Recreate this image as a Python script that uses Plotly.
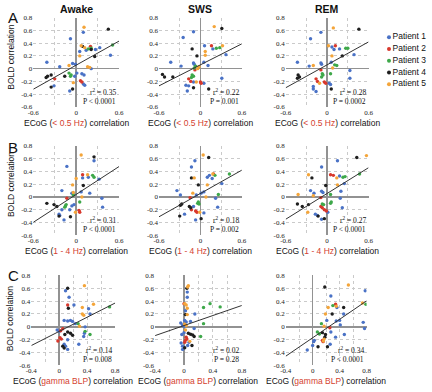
import plotly.graph_objects as go

W, H = 432, 392

patients = ["Patient 1", "Patient 2", "Patient 3", "Patient 4", "Patient 5"]
colors = ["#4a72c6", "#d8382c", "#3ea84a", "#1e1e1e", "#f4a53a"]

states = ["Awake", "SWS", "REM"]
bands = ["&lt; 0.5 Hz", "1 - 4 Hz", "gamma BLP"]
row_letters = ["A", "B", "C"]

# axis ticks (labelled) per row; minor grid step per row
xticks_ab = [-0.6, 0, 0.6]
xticklabels_ab = ["-0.6", "0", "0.6"]
xgrid_step_ab = 0.3
xticks_c = [-0.4, 0, 0.4, 0.8]
xticklabels_c = ["-0.4", "0", "0.4", "0.8"]
xgrid_step_c = 0.2
yticks = [-0.6, -0.4, -0.2, 0, 0.2, 0.4, 0.6, 0.8]
yticklabels = ["-0.6", "-0.4", "-0.2", "0", "0.2", "0.4", "0.6", "0.8"]

# ---------------- Row A: ECoG (< 0.5 Hz) ----------------
A_awake_x = [
    [0.10, -0.08, 0.33, 0.48, 0.27, 0.14, 0.05, -0.41, -0.05, -0.01, -0.23, 0.21, 0.01, 0.08, 0.11, -0.02, -0.31, 0.10, 0.12, -0.09],
    [0.20, -0.30, 0.06, 0.08],
    [0.21, 0.17, 0.51, -0.10, -0.07, -0.08],
    [0.45, 0.09, 0.21, 0.26, -0.35, -0.40, -0.42, -0.16, -0.35, -0.05],
    [0.11, 0.07, 0.12, 0.05, -0.10, 0.16, 0.19, -0.04],
]
A_awake_y = [
    [0.57, 0.47, 0.33, 0.21, 0.30, 0.29, 0.27, 0.10, 0.08, 0.07, 0.03, 0.00, -0.07, -0.08, -0.10, -0.12, -0.27, -0.24, -0.26, -0.35],
    [0.35, -0.16, -0.19, -0.21],
    [0.32, 0.31, 0.37, -0.07, -0.10, -0.12],
    [0.62, 0.35, 0.30, 0.19, -0.10, -0.12, -0.14, -0.12, -0.29, -0.32],
    [0.65, 0.36, 0.33, 0.20, 0.05, 0.03, 0.02, -0.22],
]
A_sws_x = [
    [-0.10, -0.25, 0.06, 0.18, 0.37, -0.43, -0.10, -0.09, 0.05, -0.28, 0.11, 0.31, -0.21, -0.10, -0.19, 0.05, -0.17],
    [0.16, -0.08, -0.17, -0.14, 0.00, 0.01],
    [0.23, 0.28, -0.07, -0.09, -0.12, -0.10, -0.13],
    [0.31, -0.12, -0.05, -0.55, -0.52, -0.40, -0.10, 0.12],
    [0.20, 0.32, 0.07, 0.07, -0.02, -0.04, -0.06],
]
A_sws_y = [
    [0.58, 0.49, 0.36, 0.31, 0.22, 0.10, 0.09, 0.07, 0.10, 0.04, 0.05, -0.15, -0.26, -0.21, -0.35, -0.23, -0.27],
    [0.36, -0.02, -0.16, -0.20, -0.21, -0.23],
    [0.32, 0.33, 0.04, 0.01, -0.10, -0.12, -0.14],
    [0.63, 0.31, 0.20, -0.09, -0.13, -0.13, -0.30, -0.32],
    [0.66, 0.36, 0.27, 0.21, 0.03, 0.00, -0.21],
]
A_rem_x = [
    [-0.09, -0.24, 0.07, 0.18, 0.10, 0.39, -0.43, -0.09, -0.08, -0.26, 0.06, 0.33, 0.03, 0.05, -0.20, -0.20, -0.16, 0.33],
    [0.12, -0.09, -0.16, -0.14, -0.04, -0.02],
    [0.27, 0.30, 0.11, 0.14, -0.07, -0.06, -0.08, 0.05],
    [0.46, 0.22, -0.42, -0.40, -0.43, 0.06],
    [0.09, 0.02, 0.07, -0.20, 0.08, -0.11],
]
A_rem_y = [
    [0.57, 0.47, 0.34, 0.31, 0.30, 0.22, 0.10, 0.09, 0.07, 0.04, 0.10, -0.03, -0.23, -0.25, -0.28, -0.32, -0.36, -0.15],
    [0.36, -0.02, -0.16, -0.20, -0.21, -0.23],
    [0.32, 0.32, 0.06, 0.05, -0.08, -0.10, -0.13, -0.08],
    [0.62, 0.20, -0.10, -0.13, -0.15, -0.32],
    [0.64, 0.36, 0.20, 0.05, 0.01, -0.23],
]

# ---------------- Row B: ECoG (1 - 4 Hz) ----------------
B_awake_x = [
    [0.25, -0.13, 0.09, 0.17, 0.32, -0.20, 0.07, -0.06, -0.04, 0.19, 0.36, -0.03, -0.06, 0.37, -0.20, -0.09, -0.24, -0.23, -0.17],
    [0.09, -0.13, 0.04, 0.05],
    [0.23, 0.25, -0.04, 0.05, -0.14, -0.15, -0.16],
    [0.25, 0.10, -0.41, -0.31, -0.27, -0.24, -0.08],
    [0.07, 0.16, 0.00, -0.05, -0.04, 0.08, -0.01],
]
B_awake_y = [
    [0.57, 0.48, 0.30, 0.31, 0.28, 0.10, 0.08, 0.06, 0.04, 0.06, -0.02, -0.12, -0.14, -0.16, -0.20, -0.20, -0.27, -0.29, -0.36],
    [0.35, -0.02, -0.21, -0.24],
    [0.34, 0.31, 0.03, -0.08, -0.12, -0.14, -0.16],
    [0.63, 0.18, -0.10, -0.12, -0.15, -0.30, -0.31],
    [0.66, 0.35, 0.29, 0.19, 0.07, 0.00, -0.24],
]
B_sws_x = [
    [-0.08, -0.13, 0.10, 0.13, 0.17, 0.31, -0.34, -0.29, 0.05, 0.01, -0.06, 0.22, -0.10, -0.23, 0.05, 0.25, -0.07],
    [0.19, -0.15, -0.13, -0.07, -0.05],
    [0.21, 0.42, 0.26, -0.03, -0.04, -0.02],
    [0.12, -0.13, -0.03, -0.27, -0.29, -0.16, -0.14, -0.30, 0.01],
    [0.04, -0.09, 0.18, 0.10, -0.11, 0.08, -0.01],
]
B_sws_y = [
    [0.57, 0.47, 0.31, 0.34, 0.29, 0.21, 0.10, 0.03, 0.08, 0.06, 0.03, -0.02, -0.15, -0.27, -0.25, -0.16, -0.36],
    [0.36, -0.01, -0.20, -0.22, -0.24],
    [0.34, 0.36, 0.04, -0.08, -0.10, -0.11],
    [0.62, 0.30, 0.19, -0.11, -0.13, -0.15, -0.17, -0.30, -0.34],
    [0.66, 0.30, 0.36, 0.19, 0.06, 0.00, -0.24],
]
B_rem_x = [
    [0.15, -0.08, 0.18, 0.25, -0.24, -0.19, -0.08, -0.06, 0.20, 0.19, 0.01, 0.22, -0.17, -0.14, -0.08],
    [0.05, 0.09, -0.09, -0.09, -0.07, -0.04, -0.01],
    [0.23, 0.26, 0.47, 0.05, 0.06, 0.05, -0.07, -0.05],
    [0.43, -0.22, -0.02, -0.43, -0.36, -0.27, -0.13, -0.04],
    [0.57, -0.27, 0.14, 0.15, -0.42, -0.20, -0.28],
]
B_rem_y = [
    [0.57, 0.47, 0.33, 0.21, 0.10, 0.06, 0.09, 0.07, 0.09, -0.02, -0.24, -0.17, -0.27, -0.29, -0.35],
    [0.35, 0.34, -0.01, -0.15, -0.17, -0.20, -0.22],
    [0.31, 0.32, 0.36, 0.04, -0.08, -0.10, -0.11, -0.12],
    [0.62, 0.30, 0.18, -0.11, -0.15, -0.12, -0.30, -0.34],
    [0.65, 0.35, 0.30, 0.19, 0.04, 0.02, -0.24],
]

# ---------------- Row C: ECoG (gamma BLP) ----------------
C_awake_x = [
    [0.09, 0.14, 0.21, 0.42, 0.44, 0.07, 0.12, 0.16, 0.19, 0.23, 0.37, 0.36, 0.35, 0.00, 0.12, 0.07, 0.09, 0.12, 0.28, -0.03],
    [0.12, 0.05, 0.02, 0.01, -0.02, 0.03],
    [0.72, 0.27, 0.37, 0.44],
    [0.12, 0.13, 0.12, 0.16, 0.19, 0.08, 0.05, 0.07],
    [0.36, 0.33, 0.49, 0.33, 0.35, 0.29],
]
C_awake_y = [
    [0.56, 0.46, 0.34, 0.28, 0.20, 0.10, 0.09, 0.10, 0.085, 0.05, 0.00, -0.10, -0.15, -0.07, -0.20, -0.27, -0.30, -0.35, -0.27, -0.05],
    [0.34, -0.03, -0.06, -0.17, -0.22, -0.19],
    [0.31, 0.05, -0.07, -0.12],
    [0.60, 0.29, -0.08, -0.10, -0.13, -0.12, -0.30, -0.33],
    [0.64, 0.30, 0.35, 0.20, 0.18, 0.01],
]
C_sws_x = [
    [0.045, 0.045, 0.02, 0.15, 0.01, 0.03, 0.09, -0.045, -0.02, 0.00, 0.14, 0.00, -0.03, -0.04, -0.02, 0.05, -0.02, 0.07],
    [0.00, 0.03, 0.04, 0.02, 0.01],
    [0.36, 0.50, 0.27, 0.27, 0.23],
    [0.04, 0.02, 0.06, 0.09, 0.12, 0.14, 0.01, 0.11],
    [0.06, 0.05, 0.01, 0.03, 0.045, 0.045, 0.01, 0.03, 0.02, 0.08],
]
C_sws_y = [
    [0.54, 0.46, 0.25, 0.20, 0.10, 0.075, 0.085, 0.06, 0.03, 0.01, -0.025, -0.09, -0.12, -0.25, -0.30, -0.29, -0.35, -0.24],
    [0.36, -0.16, -0.19, -0.21, -0.24],
    [0.36, 0.31, 0.30, 0.05, -0.15],
    [0.60, 0.19, -0.10, -0.115, -0.125, -0.15, -0.325, -0.29],
    [0.64, 0.62, 0.36, 0.34, 0.29, 0.19, 0.04, 0.02, -0.05, -0.225],
]
C_rem_x = [
    [0.78, 0.27, 0.36, 0.46, 0.21, 0.35, 0.40, 0.41, 0.75, 0.77, 0.27, 0.47, 0.025, 0.015, 0.00, 0.26, 0.34, -0.08],
    [0.34, 0.255, 0.145, 0.155],
    [0.30, 0.79, 0.13, 0.07, 0.10],
    [0.18, 0.46, 0.29, 0.145, 0.19, 0.18, 0.08, 0.22],
    [0.53, 0.35, 0.23, 0.74, 0.19, 0.17, 0.17, 0.16],
]
C_rem_y = [
    [0.56, 0.48, 0.30, 0.20, 0.10, 0.09, 0.10, 0.03, 0.07, -0.025, -0.08, -0.12, -0.21, -0.23, -0.29, -0.27, -0.16, -0.36],
    [0.35, -0.015, -0.21, -0.23],
    [0.33, 0.35, 0.05, -0.08, -0.11],
    [0.62, 0.30, 0.20, -0.09, -0.12, -0.16, -0.31, -0.31],
    [0.65, 0.32, 0.30, 0.37, 0.20, 0.01, -0.19, -0.22],
]

# regression lines (slope, intercept) per panel, row-major
fit_slope = [0.63, 0.55, 0.60, 0.73, 0.61, 0.675, 0.55, 0.39, 0.717]
fit_intercept = [0.055, 0.06, 0.06, 0.04, 0.055, 0.055, -0.07, 0.02, -0.17]

# statistics per panel, row-major
r2_values = ["0.35", "0.22", "0.28", "0.31", "0.18", "0.27", "0.14", "0.02", "0.34"]
p_values = ["P &lt; 0.0001", "P = 0.001", "P = 0.0002",
            "P &lt; 0.0001", "P = 0.002", "P &lt; 0.0001",
            "P = 0.008", "P = 0.28", "P &lt; 0.0001"]

panel_x = [A_awake_x, A_sws_x, A_rem_x, B_awake_x, B_sws_x, B_rem_x, C_awake_x, C_sws_x, C_rem_x]
panel_y = [A_awake_y, A_sws_y, A_rem_y, B_awake_y, B_sws_y, B_rem_y, C_awake_y, C_sws_y, C_rem_y]

# ---------------- layout geometry (pixels) ----------------
col_px = [
    [(28, 116), (157, 242), (287, 372)],
    [(28, 116), (157, 242), (287, 372)],
    [(26, 112), (153, 242), (287, 370)],
]
row_px = [(14, 105), (145, 236), (277, 369)]
xtitle_px = [121, 252, 385]
ylabel_center_px = [54, 184, 321]
letter_px = [14, 146, 277]

def px_x(p):
    return p / W

def px_y(p):
    return 1 - p / H

SANS = "Liberation Sans, Arial, sans-serif"
SERIF = "Liberation Serif, Times New Roman, serif"
GRID = dict(showgrid=True, gridcolor="#cacaca", griddash="dot", gridwidth=1)

fig = go.Figure()
layout = dict(
    width=W, height=H, autosize=False,
    margin=dict(l=0, r=0, t=0, b=0),
    paper_bgcolor="white", plot_bgcolor="white",
    showlegend=False,
)
annotations = []

for r in range(3):
    for c in range(3):
        k = r * 3 + c + 1
        sfx = "" if k == 1 else str(k)
        xr = [-0.6, 0.6] if r < 2 else [-0.4, 0.8]
        xt = xticks_ab if r < 2 else xticks_c
        xtl = xticklabels_ab if r < 2 else xticklabels_c
        xstep = xgrid_step_ab if r < 2 else xgrid_step_c
        x0, x1 = col_px[r][c]
        y0, y1 = row_px[r]
        common = dict(
            GRID,
            zeroline=True, zerolinecolor="#929292", zerolinewidth=1.6,
            showline=False, ticks="",
            tickfont=dict(family=SERIF, size=7, color="#222"),
            fixedrange=True,
        )
        layout["xaxis" + sfx] = dict(
            common, domain=[px_x(x0), px_x(x1)], range=xr,
            tickvals=xt, ticktext=xtl, anchor="y" + sfx,
            minor=dict(GRID, tick0=xr[0], dtick=xstep, ticks=""),
        )
        layout["yaxis" + sfx] = dict(
            common, domain=[px_y(y1), px_y(y0)], range=[-0.6, 0.8],
            tickvals=yticks, ticktext=yticklabels, anchor="x" + sfx,
        )
        idx = k - 1
        for p in range(5):
            fig.add_trace(go.Scatter(
                x=panel_x[idx][p], y=panel_y[idx][p], mode="markers",
                marker=dict(size=3.4, color=colors[p], line=dict(width=0)),
                xaxis="x" + sfx, yaxis="y" + sfx, hoverinfo="skip",
            ))
        lx = xr
        ly = [fit_intercept[idx] + fit_slope[idx] * v for v in lx]
        fig.add_trace(go.Scatter(
            x=lx, y=ly, mode="lines", line=dict(color="#333333", width=1),
            xaxis="x" + sfx, yaxis="y" + sfx, hoverinfo="skip",
        ))
        # statistics
        annotations.append(dict(
            text="r<sup>2</sup> = " + r2_values[idx], xref="x" + sfx + " domain", yref="y" + sfx,
            x=0.99, y=-0.36, xanchor="right", yanchor="middle", showarrow=False,
            font=dict(family=SERIF, size=7.5, color="#111"),
        ))
        annotations.append(dict(
            text=p_values[idx], xref="x" + sfx + " domain", yref="y" + sfx,
            x=0.99, y=-0.51, xanchor="right", yanchor="middle", showarrow=False,
            font=dict(family=SERIF, size=7.5, color="#111"),
        ))
        # x-axis title
        annotations.append(dict(
            text="ECoG (<span style='color:#d4412f'>" + bands[r] + "</span>) correlation",
            xref="paper", yref="paper", x=px_x((x0 + x1) / 2), y=px_y(xtitle_px[r]),
            xanchor="center", yanchor="middle", showarrow=False,
            font=dict(family=SANS, size=8.5, color="#111"),
        ))
    # y-axis title and row letter
    annotations.append(dict(
        text="BOLD correlation", xref="paper", yref="paper",
        x=px_x(5), y=px_y(ylabel_center_px[r]), textangle=-90,
        xanchor="center", yanchor="middle", showarrow=False,
        font=dict(family=SANS, size=8.5, color="#111"),
    ))
    annotations.append(dict(
        text=row_letters[r], xref="paper", yref="paper",
        x=0, y=px_y(letter_px[r]), xanchor="left", yanchor="middle", showarrow=False,
        font=dict(family=SANS, size=15, color="#111"),
    ))

for c in range(3):
    x0, x1 = col_px[0][c]
    annotations.append(dict(
        text="<b>" + states[c] + "</b>", xref="paper", yref="paper",
        x=px_x((x0 + x1) / 2), y=px_y(5), xanchor="center", yanchor="middle",
        showarrow=False, font=dict(family=SANS, size=10.5, color="#111"),
    ))

# legend drawn on its own hidden axes
layout["xaxis10"] = dict(domain=[px_x(389), 1.0], range=[0, 43], visible=False, fixedrange=True, anchor="y10")
layout["yaxis10"] = dict(domain=[px_y(88), px_y(28)], range=[5.5, 0.5], visible=False, fixedrange=True, anchor="x10")
for p in range(5):
    fig.add_trace(go.Scatter(
        x=[4], y=[p + 1], mode="markers+text", text=[patients[p]],
        textposition="middle right", cliponaxis=False,
        textfont=dict(family=SANS, size=8.5, color="#111"),
        marker=dict(size=4, color=colors[p]),
        xaxis="x10", yaxis="y10", hoverinfo="skip",
    ))

layout["annotations"] = annotations
fig.update_layout(**layout)
fig.write_html(
    "out.html",
    config={"displayModeBar": False, "staticPlot": True},
    post_script="document.body.style.margin='0';document.body.style.padding='0';document.body.style.overflow='hidden';",
)
